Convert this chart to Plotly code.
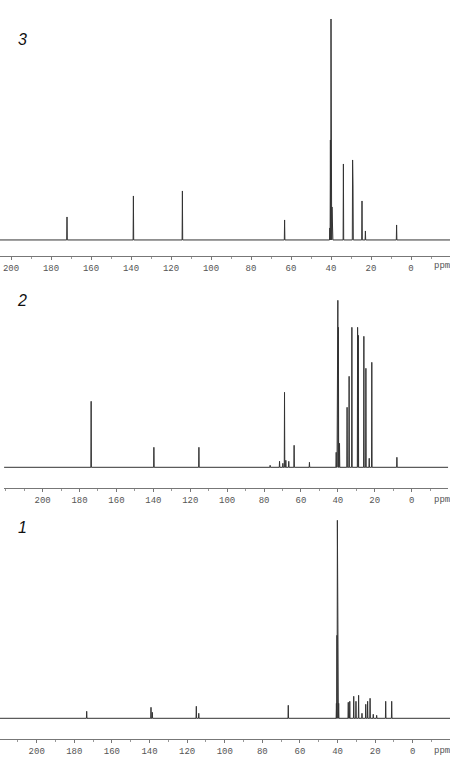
import plotly.graph_objects as go
from plotly.subplots import make_subplots

# peak lists (ppm, height in arbitrary units)
ppm_3 = [172.0, 138.8, 114.3, 63.2, 40.6, 40.3, 40.0, 39.8, 39.5, 39.2,
         33.8, 29.2, 29.0, 24.5, 22.8, 7.2]
int_3 = [23, 44, 49, 20, 12, 100, 221, 199, 33, 10,
         76, 80, 55, 39, 9, 15]

ppm_2 = [173.7, 139.7, 115.3, 76.7, 71.6, 69.8, 68.9, 68.2, 66.6, 63.7,
         55.4, 40.9, 40.3, 40.0, 39.7, 39.1, 35.0, 33.9, 32.4, 29.3,
         28.9, 25.9, 24.8, 23.0, 21.6, 8.0]
int_2 = [66, 20, 20, 2, 6, 4, 75, 7, 6, 22,
         5, 15, 70, 167, 140, 24, 60, 91, 140, 140,
         132, 131, 99, 9, 105, 10]

ppm_1 = [173.4, 139.2, 138.5, 115.1, 113.8, 66.2, 40.6, 40.3, 40.1, 39.8,
         39.4, 34.3, 33.5, 31.4, 30.2, 28.8, 27.0, 25.0, 24.0, 22.7,
         21.0, 19.2, 14.4, 11.2]
int_1 = [7, 11, 6, 12, 5, 13, 15, 83, 198, 160,
         15, 16, 17, 22, 17, 23, 5, 14, 17, 20,
         4, 3, 17, 17]

tick_vals = [200, 180, 160, 140, 120, 100, 80, 60, 40, 20, 0]
panel_names = ['3', '2', '1']


def stick_spectrum(ppm, height, lo, hi, half_width=0.15):
    """turn a peak list into one line trace with narrow peaks on a flat baseline"""
    xs = [hi]
    ys = [0]
    for p, h in sorted(zip(ppm, height), reverse=True):
        xs += [p + half_width, p, p - half_width]
        ys += [0, h, 0]
    xs.append(lo)
    ys.append(0)
    return xs, ys


fig = make_subplots(rows=3, cols=1)

panels = [
    # data, x range, x domain, y range, y domain
    (ppm_3, int_3, [205.5, -19.5], [0.0, 1.0], [-16, 230], [0.6693, 0.9871]),
    (ppm_2, int_2, [220.9, -19.8], [0.009, 0.996], [-20.7, 177.3], [0.3695, 0.6253]),
    (ppm_1, int_1, [219.5, -19.8], [0.0, 1.0], [-20.4, 203.3], [0.0456, 0.3346]),
]

for i, (ppm, height, xr, xd, yr, yd) in enumerate(panels):
    xs, ys = stick_spectrum(ppm, height, xr[1], xr[0])
    fig.add_trace(
        go.Scatter(
            x = xs,
            y = ys,
            mode = 'lines',
            line = dict(color = '#333', width = 1),
            hoverinfo = 'skip',
            showlegend = False
        ),
        row = i + 1, col = 1
    )
    fig.update_xaxes(
        range = xr,
        domain = xd,
        tickvals = tick_vals,
        ticks = 'outside',
        ticklen = 3,
        tickcolor = '#777',
        showline = True,
        linecolor = '#777',
        linewidth = 1,
        showgrid = False,
        zeroline = False,
        tickfont = dict(family = 'Liberation Mono', size = 9, color = '#555'),
        minor = dict(dtick = 10, tick0 = 0, ticks = 'outside', ticklen = 2, tickcolor = '#999'),
        row = i + 1, col = 1
    )
    fig.update_yaxes(range = yr, domain = yd, visible = False, row = i + 1, col = 1)

# "ppm" unit at the right end of every axis, and the compound numbers
ppm_y = [0.6563, 0.354, 0.0301]
name_pos = [(0.049, 0.949), (0.049, 0.6115), (0.050, 0.3187)]
for i in range(3):
    fig.add_annotation(
        x = 0.982, y = ppm_y[i], xref = 'paper', yref = 'paper',
        text = 'ppm', showarrow = False, xanchor = 'center', yanchor = 'middle',
        font = dict(family = 'Liberation Mono', size = 9, color = '#555')
    )
    fig.add_annotation(
        x = name_pos[i][0], y = name_pos[i][1], xref = 'paper', yref = 'paper',
        text = '<i>' + panel_names[i] + '</i>', showarrow = False,
        xanchor = 'center', yanchor = 'middle',
        font = dict(family = 'Liberation Sans', size = 16, color = '#111')
    )

fig.update_layout(
    width = 450,
    height = 774,
    margin = dict(l = 0, r = 0, t = 0, b = 0),
    paper_bgcolor = 'white',
    plot_bgcolor = 'white'
)

# drop the browser's default body margin so the figure sits at the page corner
fig.write_html(
    "out.html",
    config = {'displayModeBar': False},
    post_script = "document.body.style.margin = '0';"
)
